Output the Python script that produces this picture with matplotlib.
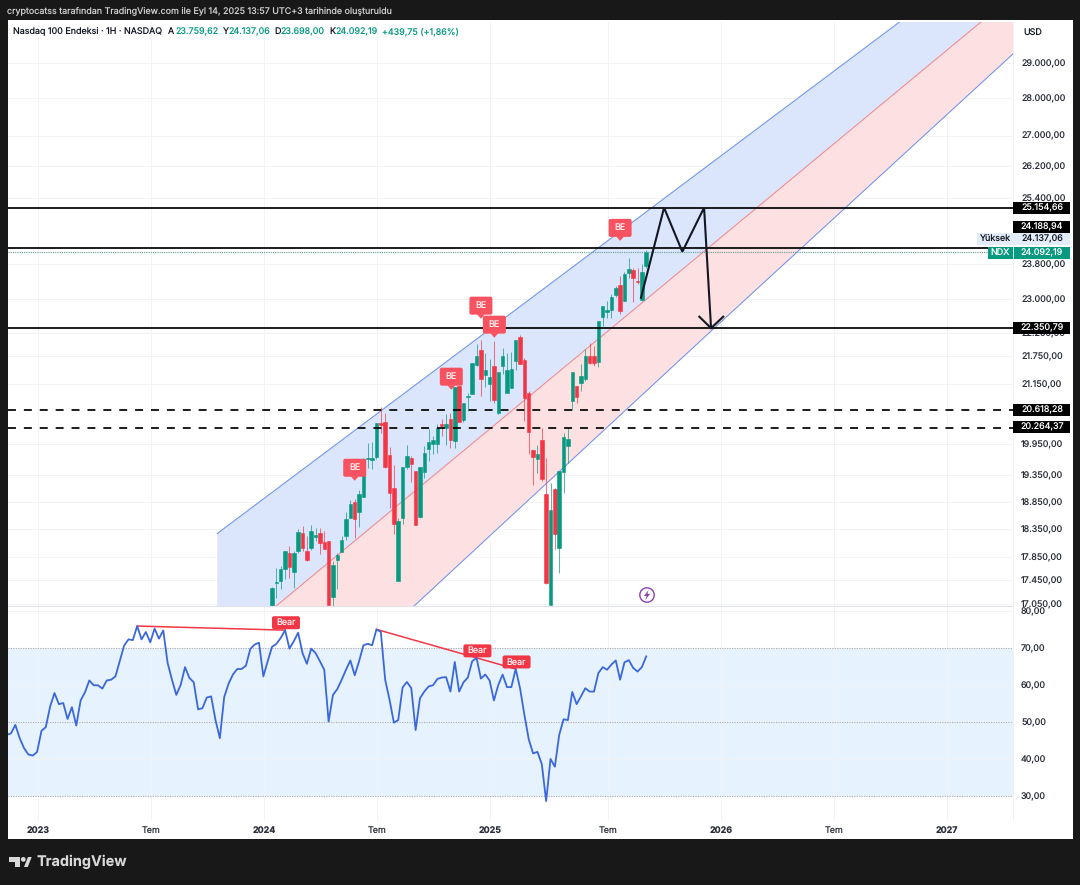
import matplotlib
matplotlib.use("Agg")
import matplotlib.pyplot as plt
from matplotlib.patches import FancyBboxPatch, Rectangle, Polygon, Circle
from matplotlib.ticker import FixedLocator, FuncFormatter, NullLocator, NullFormatter

plt.rcParams['font.family'] = ['Inter', 'DejaVu Sans']
plt.rcParams['text.hinting'] = 'none'
plt.rcParams['text.hinting_factor'] = 1

# ---------- data ----------
first_candle_week = 61
opens = [17021,17410,17444,17652,17930,17600,17965,18284,17965,18018,18212,18284,18123,18141,17173,17807,17948,18230,18555,18849,18665,18941,19661,19641,19700,20370,20390,19739,19110,17444,18555,19507,19680,19431,18573,19412,19855,19953,19953,20350,20270,20450,20011,21123,20430,20896,20958,21564,21883,21353,21164,21543,20572,21543,20979,21082,21648,22163,21669,20979,19836,19661,20030,18997,17038,19091,18018,19412,19914,20814,21123,21185,21268,21755,21755,21627,22602,22714,22758,23096,23323,22959,23600,23670,23414,22982,23759.62]
highs = [17340,17669,17703,17965,18053,17965,18356,18410,18230,18428,18374,18374,18320,18141,17790,17930,18230,18665,18885,18904,19072,19680,19972,19992,20370,20693,20572,19894,19545,18555,19507,19933,19719,19431,19507,19914,20250,20110,20350,20450,20551,20572,21102,21123,20774,20979,21606,22012,22098,21819,21691,22076,21416,21926,21819,21841,22098,22205,21712,21020,19836,19933,20270,19680,19203,19110,19431,20170,20270,21416,21123,21585,21905,22033,21969,22513,22848,22959,23118,23300,23530,23623,23950,23715,23715,23808,24137.06]
lows = [16900,17157,17309,17479,17496,17326,17930,17965,17790,17983,18141,17913,18000,17021,17021,17309,17948,18159,18555,18194,18392,18941,19488,19469,19661,20170,19488,18738,18266,17444,18446,19469,19221,18428,18555,19297,19622,19758,19778,20110,19933,19875,19875,20390,20390,20612,20958,21543,20917,21102,20814,20774,20551,21374,20979,21082,21458,21585,20410,19758,19165,19393,19240,17393,17038,18000,17582,19016,19584,20633,20774,21020,21226,21585,21543,21521,22404,22580,22580,23050,22669,22959,23483,22937,23346,22959,23698]
closes = [17326,17427,17652,17965,17686,17930,18302,18018,17807,18320,18248,18106,18000,17038,17721,17895,18159,18537,18812,18537,18997,19661,19680,19680,20370,20330,19507,19016,18446,18500,19507,19719,19565,18428,19507,19778,19992,20030,20270,20310,20350,20030,21102,20390,20774,20917,21606,21755,21268,21458,21310,20835,21416,21755,21458,21479,22098,21585,20876,20190,19700,19758,19278,17410,18702,18266,19431,20090,20050,21416,20896,21332,21755,21606,21606,22513,22848,22758,23050,23255,22736,23577,23692,23483,23391,23623,24092.19]

rsi_values = [46.5,46.9,49.2,45.6,42.9,41.2,40.9,41.9,47.6,48.6,54.2,57.8,54.8,55.1,50.8,54.0,49.0,55.8,58.0,61.2,59.9,59.9,59.0,61.2,61.4,62.3,66.4,70.6,72.3,72.1,75.9,72.3,74.3,71.5,75.2,72.5,74.7,65.9,61.4,57.3,60.0,64.8,61.9,60.7,53.4,53.7,56.6,56.9,50.5,45.6,56.7,60.3,62.8,64.3,64.3,65.2,69.7,70.9,71.4,62.3,66.4,70.3,71.1,72.7,74.8,69.8,71.8,74.1,68.6,65.7,69.8,68.6,66.4,64.1,50.1,
              57.3,58.9,61.4,64.1,66.6,62.6,66.4,70.7,71.1,70.7,75.0,74.3,61.4,56.0,49.8,50.5,59.3,60.8,59.1,47.8,56.4,58.2,59.6,59.9,61.6,62.0,62.1,58.2,66.2,58.2,60.7,62.0,66.4,67.3,61.7,62.8,61.2,55.8,60.0,62.8,59.4,59.4,64.3,59.1,51.9,45.3,41.5,41.9,38.6,28.6,40.0,37.9,46.5,50.7,50.5,58.1,54.8,56.9,59.1,58.2,58.2,63.2,64.8,64.1,65.5,66.6,61.4,66.1,66.7,64.6,63.6,64.8,67.7]

# channel lines: (week, price) anchors
top_weeks, top_prices = [48.4, 244.9], [18270, 34270]
mid_weeks, mid_prices = [48.4, 224.0, 244.9], [16220, 30190, 32350]
bot_weeks, bot_prices = [48.4, 162.4, 231.3, 244.9], [14230, 22330, 29250, 30820]

solid_levels = [25154.66, 24188.94, 22350.79]
dashed_levels = [20618.28, 20264.37]
last_close = 24092.19

m_weeks = [145.8, 151.1, 155.3, 160.3, 161.9]
m_prices = [23027, 25154, 24090, 25154, 22350]
head_weeks = [159.2, 161.9, 164.7]
head_prices = [22602, 22350, 22602]

be_weeks = [80.0, 102.2, 109.0, 112.1, 141.0]
be_prices = [19488, 21310, 22848, 22426, 24660]
bear_weeks = [64.2, 108.2, 117.2]
bear_rsi = [76.8, 69.2, 66.2]

price_ticks = [29000, 28000, 27000, 26200, 25400, 23800, 23000, 22250, 21750, 21150,
               19950, 19350, 18850, 18350, 17850, 17450, 17050]
rsi_ticks = [80, 70, 60, 50, 40, 30]
time_tick_weeks = [7.2, 33.2, 59.2, 85.1, 111.1, 138.3, 164.2, 190.2, 216.2]
time_tick_labels = ['2023', 'Tem', '2024', 'Tem', '2025', 'Tem', '2026', 'Tem', '2027']

# ---------- style ----------
W, H = 1080, 885
DARK = '#181818'
INK = '#131722'
UP = '#089981'
DOWN = '#f23645'
BLUE = '#6f93e8'
FS = 6.45

fig = plt.figure(figsize=(W/100, H/100), dpi=100, facecolor=DARK)


def box(l, t, r, b):
    return [l/W, 1-b/H, (r-l)/W, (b-t)/H]


def tr(v):
    return f"{v:,.2f}".replace(",", "X").replace(".", ",").replace("X", ".")


bg = fig.add_axes([0, 0, 1, 1], zorder=0)
bg.set_xlim(0, W); bg.set_ylim(H, 0); bg.axis('off')
bg.add_patch(Rectangle((8, 20), 1065, 819, fc='white', ec='none'))

ax = fig.add_axes(box(8, 21.7, 1013, 605.7), zorder=1)
rs = fig.add_axes(box(8, 605.7, 1013, 820), zorder=1)
fg = fig.add_axes([0, 0, 1, 1], zorder=5)
fg.set_xlim(0, W); fg.set_ylim(H, 0); fg.axis('off'); fg.patch.set_alpha(0)

XMIN, XMAX = 0.31, 231.3
for a in (ax, rs):
    a.set_xlim(XMIN, XMAX)
    a.set_facecolor('white')
    for s in ('top', 'left', 'bottom'):
        a.spines[s].set_visible(False)
    a.spines['right'].set_color('#f0f1f4')
    a.spines['right'].set_linewidth(0.7)
    a.yaxis.tick_right()
    a.tick_params(length=0, labelsize=FS, labelcolor='#2a2e39')
    a.tick_params(axis='y', pad=5.8)
    a.set_axisbelow(True)
    a.xaxis.set_major_locator(FixedLocator(time_tick_weeks))
    a.grid(True, color='#f2f3f6', lw=0.7)

# ---------- price pane ----------
ax.set_yscale('log')
ax.set_ylim(17021, 30190)
ax.yaxis.set_major_locator(FixedLocator(price_ticks))
ax.yaxis.set_minor_locator(NullLocator())
ax.yaxis.set_minor_formatter(NullFormatter())
ax.yaxis.set_major_formatter(FuncFormatter(lambda v, _: tr(v)))
ax.set_xticklabels([])

ax.fill(top_weeks + mid_weeks[::-1], top_prices + mid_prices[::-1], fc='#dbe5fc', ec='none', zorder=1)
ax.fill(mid_weeks + bot_weeks[::-1], mid_prices + bot_prices[::-1], fc='#fde0e1', ec='none', zorder=1)
ax.plot(top_weeks, top_prices, color=BLUE, lw=0.75, zorder=2)
ax.plot(mid_weeks, mid_prices, color='#ee8a90', lw=0.75, zorder=2)
ax.plot(bot_weeks, bot_prices, color=BLUE, lw=0.75, zorder=2)

weeks = [first_candle_week + k for k in range(len(opens))]
colors = [UP if c >= o else DOWN for o, c in zip(opens, closes)]
ax.vlines(weeks, lows, highs, colors=colors, lw=0.7, alpha=0.7, zorder=3)
ax.bar(weeks, [abs(c-o) for o, c in zip(opens, closes)], bottom=[min(o, c) for o, c in zip(opens, closes)],
       width=0.8, color=colors, edgecolor=colors, linewidth=0.4, zorder=4)

ax.axhline(last_close, color='#5f9e93', lw=0.8, ls=(0, (1, 1)), zorder=5)
for lv in solid_levels:
    ax.axhline(lv, color='#0b0b0b', lw=1.3, zorder=6)
for lv in dashed_levels:
    ax.axhline(lv, color='#0b0b0b', lw=1.3, dashes=(4.4, 4.4), zorder=6)

ax.plot(m_weeks, m_prices, color='#131722', lw=1.5, zorder=7, solid_joinstyle='miter')
ax.plot(head_weeks, head_prices, color='#131722', lw=1.5, zorder=7)

# ---------- RSI pane ----------
rs.set_ylim(23.5, 81.4)
rs.yaxis.set_major_locator(FixedLocator(rsi_ticks))
rs.yaxis.set_major_formatter(FuncFormatter(lambda v, _: tr(v)))
rs.axhspan(30, 70, fc='#e6f2fd', ec='none', zorder=0.5)
for lv in (70, 50, 30):
    rs.axhline(lv, color='#a9adb6', lw=0.8, ls=(0, (1, 1.2)), zorder=1)
rsi_weeks = list(range(len(rsi_values)))
rs.plot(rsi_weeks, rsi_values, color='#3a68dc', lw=1.3, zorder=3)
rs.plot([30, 64], [rsi_values[30], rsi_values[64]], color=DOWN, lw=1.1, zorder=2.5)
rs.plot([85, 117], [rsi_values[85], rsi_values[117]], color=DOWN, lw=1.1, zorder=2.5)
rs.set_xticklabels(time_tick_labels)
rs.tick_params(axis='x', pad=4.2)
for lab, txt in zip(rs.get_xticklabels(), time_tick_labels):
    if txt != 'Tem':
        lab.set_fontweight('bold')
rs.spines['top'].set_visible(True)
rs.spines['top'].set_color('#e0e3eb')


def to_px(a, x, y):
    dx, dy = a.transData.transform((x, y))
    return dx * W / fig.bbox.width, H - dy * H / fig.bbox.height


# ---------- callouts ----------
for x, p in zip(be_weeks, be_prices):
    cx, cy = to_px(ax, x, p)
    fg.add_patch(FancyBboxPatch((cx-11.5, cy-9), 23, 18, boxstyle='round,pad=0,rounding_size=2',
                                fc='#f7525f', ec='none'))
    fg.add_patch(Polygon([(cx-4, cy+8.5), (cx+4, cy+8.5), (cx, cy+13)], fc='#f7525f', ec='none'))
    fg.text(cx, cy, 'BE', color='#ffeeee', fontsize=FS, ha='center', va='center')

for x, v in zip(bear_weeks, bear_rsi):
    cx, cy = to_px(rs, x, v)
    fg.add_patch(FancyBboxPatch((cx-14, cy-6.5), 28, 13, boxstyle='round,pad=0,rounding_size=2',
                                fc=DOWN, ec='none'))
    fg.text(cx, cy, 'Bear', color='#ffeeee', fontsize=FS, ha='center', va='center')

# power icon
fg.add_patch(Circle((647, 595), 7.2, fc='white', ec='#8e3fb0', lw=1.0))
fg.add_patch(Polygon([(648.5, 590), (644, 596), (646.6, 596), (645.3, 600), (650, 594), (647.4, 594)],
                     fc='#8e3fb0', ec='none'))

# ---------- price tags ----------


def tag(x0, x1, yc, h, fc, txt, tc='white', xt=1042):
    fg.add_patch(Rectangle((x0, yc-h/2), x1-x0, h, fc=fc, ec='none'))
    fg.text(xt, yc+0.2, txt, color=tc, fontsize=FS, ha='center', va='center')


for lv, yc in zip(solid_levels + dashed_levels, [208, 227, 327.5, 409.5, 427]):
    tag(1013, 1070, yc, 12, '#000000', tr(lv))
fg.add_patch(Rectangle((977, 233), 93, 12, fc='#e3ecf9', ec='none'))
fg.text(1010, 239.2, 'Yüksek', color=INK, fontsize=FS, ha='right', va='center')
fg.text(1042, 239.2, tr(24137.06), color=INK, fontsize=FS, ha='center', va='center')
fg.add_patch(Rectangle((988, 246.5), 82, 12, fc=UP, ec='none'))
fg.add_patch(Rectangle((1013, 246.5), 0.8, 12, fc='#cfeee8', ec='none'))
fg.text(1000.5, 252.7, 'NDX', color='white', fontsize=FS, ha='center', va='center')
fg.text(1042, 252.7, tr(last_close), color='white', fontsize=FS, ha='center', va='center')
fg.text(1023, 32.5, 'USD', color=INK, fontsize=FS, ha='left', va='center')

# ---------- header ----------
fg.text(7, 12, 'cryptocatss tarafından TradingView.com ile Eyl 14, 2025 13:57 UTC+3 tarihinde oluşturuldu',
        color='#cfcfcf', fontsize=FS, ha='left', va='center')
fg.text(13, 32, 'Nasdaq 100 Endeksi · 1H · NASDAQ', color=INK, fontsize=FS, ha='left', va='center')
for lx, lab, vx, val in [(168, 'A', 175, '23.759,62'), (222, 'Y', 228, '24.137,06'),
                         (274, 'D', 280, '23.698,00'), (329, 'K', 335, '24.092,19')]:
    fg.text(lx, 32, lab, color=INK, fontsize=FS, ha='left', va='center')
    fg.text(vx, 32, val, color=UP, fontsize=FS, ha='left', va='center')
fg.text(382, 32, '+439,75 (+1,86%)', color=UP, fontsize=FS, ha='left', va='center')

# ---------- logo ----------
LOGO = '#d8d8d8'
bg.add_patch(Polygon([(9, 857), (20, 857), (20, 867), (15, 867), (15, 861.5), (9, 861.5)], fc=LOGO, ec='none'))
bg.add_patch(Circle((23.3, 859.4), 2.4, fc=LOGO, ec='none'))
bg.add_patch(Polygon([(24, 867), (28, 857), (31.7, 857), (27.8, 867)], fc=LOGO, ec='none'))
bg.text(37, 862, 'TradingView', color=LOGO, fontsize=10.4, fontweight='bold', family='Inter', ha='left', va='center')

fig.savefig('out.png', dpi=100, facecolor=DARK)
